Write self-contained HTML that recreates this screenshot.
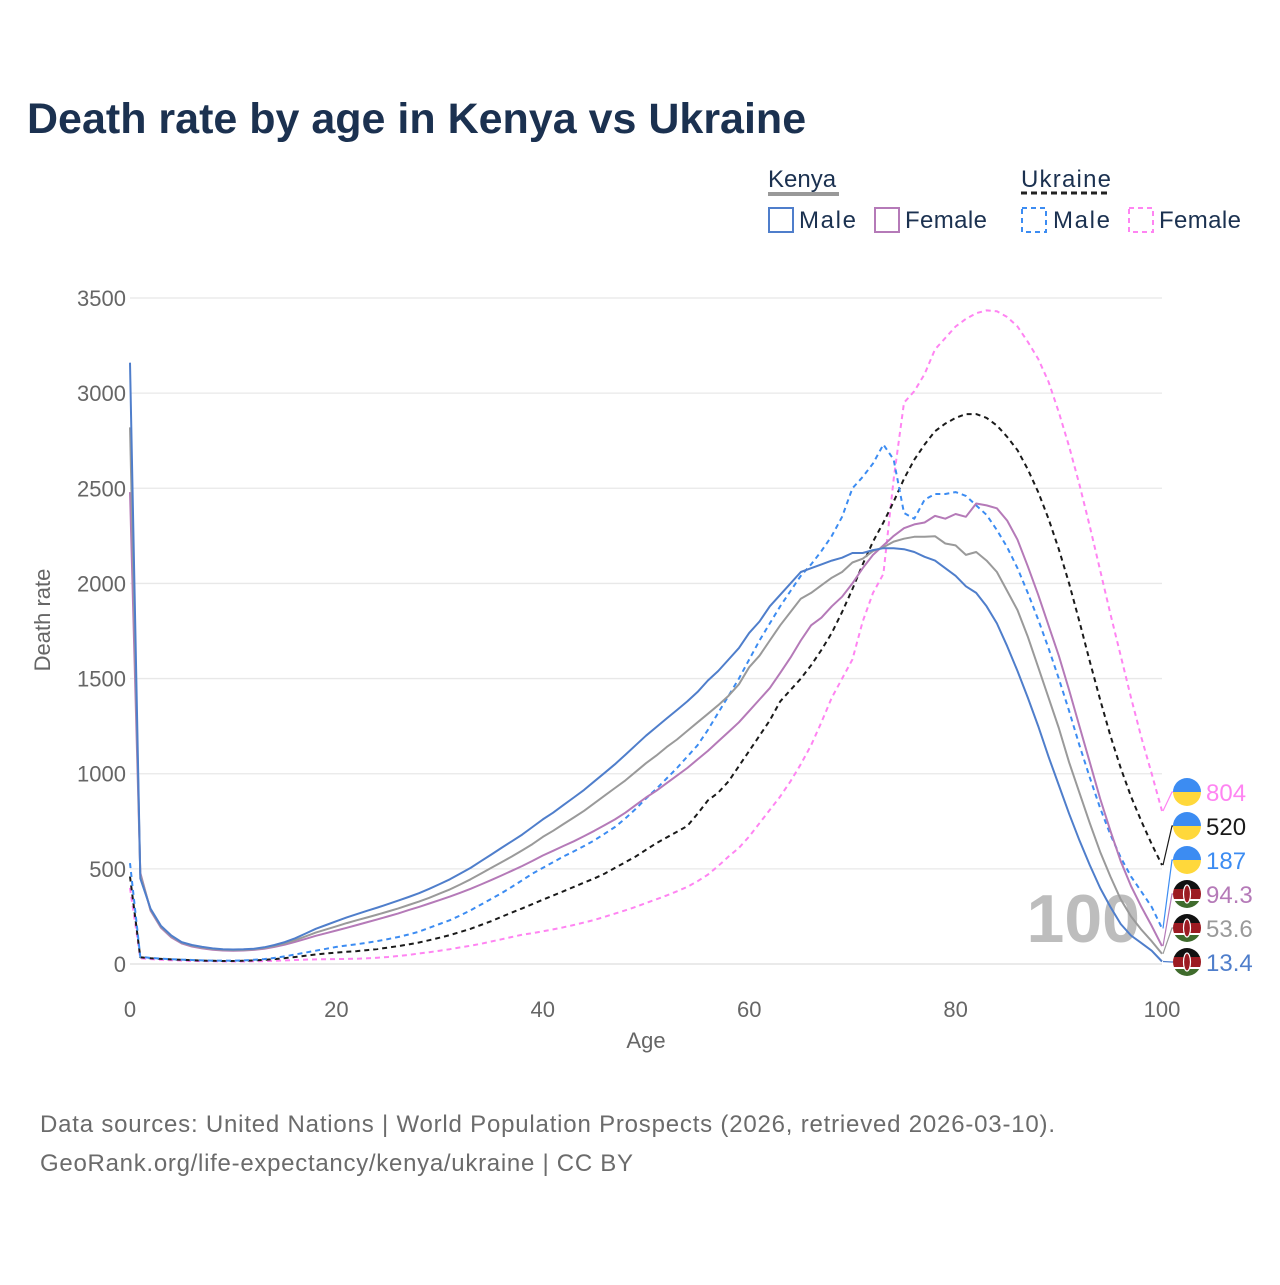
<!DOCTYPE html>
<html><head><meta charset="utf-8">
<style>
html,body{margin:0;padding:0;background:#fff;}
body{width:1280px;height:1280px;overflow:hidden;font-family:"Liberation Sans",sans-serif;}
svg text{font-family:"Liberation Sans",sans-serif;}
</style></head>
<body>
<svg id="chart" width="1280" height="1280" viewBox="0 0 1280 1280" xmlns="http://www.w3.org/2000/svg">
<defs id="defs"></defs>
<text x="27" y="133" font-size="43" font-weight="bold" fill="#1b3150">Death rate by age in Kenya vs Ukraine</text>
<g font-size="24" fill="#1b3150">
  <text x="768" y="187">Kenya</text>
  <line x1="768" y1="194" x2="839" y2="194" stroke="#999" stroke-width="4"/>
  <text x="1021" y="187" textLength="90">Ukraine</text>
  <line x1="1021" y1="193" x2="1111" y2="193" stroke="#222" stroke-width="3" stroke-dasharray="6,4"/>
  <g><rect x="769" y="208" width="24" height="24" fill="none" stroke="#4f7ecb" stroke-width="2"/><text x="799" y="228" textLength="57">Male</text></g>
  <g><rect x="875" y="208" width="24" height="24" fill="none" stroke="#b57ab8" stroke-width="2"/><text x="905" y="228" textLength="82">Female</text></g>
  <g><rect x="1022" y="208" width="24" height="24" fill="none" stroke="#3c8cf2" stroke-width="2" stroke-dasharray="5,4"/><text x="1053" y="228" textLength="57">Male</text></g>
  <g><rect x="1129" y="208" width="24" height="24" fill="none" stroke="#ff84f2" stroke-width="2" stroke-dasharray="5,4"/><text x="1159" y="228" textLength="82">Female</text></g>
</g>
<g id="grid"></g>
<g id="axes"></g>
<text x="1140" y="942" font-size="68" font-weight="bold" fill="#bdbdbd" text-anchor="end">100</text>
<g id="series"></g>
<g id="labels"></g>
<text x="646" y="1048" font-size="22" fill="#666" text-anchor="middle">Age</text>
<text transform="translate(50,620) rotate(-90)" font-size="22" fill="#666" text-anchor="middle">Death rate</text>
<text x="40" y="1132" font-size="24" fill="#6b6b6b" textLength="1015">Data sources: United Nations | World Population Prospects (2026, retrieved 2026-03-10).</text>
<text x="40" y="1171" font-size="24" fill="#6b6b6b" textLength="593">GeoRank.org/life-expectancy/kenya/ukraine | CC BY</text>
</svg>
<script>
const yTicks=[0,500,1000,1500,2000,2500,3000,3500];
const xTicks=[0,20,40,60,80,100];
const kenyaMale=[3160,450,290,200,150,115,100,90,82,78,76,77,80,88,100,115,135,160,185,205,225,245,262,280,297,315,333,352,372,395,420,445,475,505,540,575,610,645,680,720,760,795,835,875,915,960,1005,1050,1100,1150,1200,1245,1290,1335,1380,1430,1490,1540,1600,1660,1740,1800,1880,1940,2000,2060,2080,2100,2120,2135,2160,2160,2175,2185,2185,2180,2165,2140,2120,2080,2040,1985,1950,1880,1790,1670,1540,1400,1250,1090,940,790,650,520,400,300,210,150,110,70,13.4];
const kenyaTotal=[2820,470,285,195,145,112,96,86,79,75,73,74,77,84,95,108,125,145,165,182,198,215,230,245,260,276,292,310,328,348,370,392,418,445,475,505,535,565,597,630,668,700,735,770,805,845,885,925,965,1010,1055,1095,1140,1180,1225,1270,1315,1360,1410,1470,1560,1620,1700,1780,1850,1920,1950,1990,2030,2060,2110,2130,2170,2190,2220,2235,2245,2245,2248,2210,2200,2150,2165,2120,2060,1960,1860,1720,1560,1400,1240,1060,900,740,590,460,340,250,180,120,53.6];
const kenyaFemale=[2480,480,280,190,140,108,92,82,75,71,70,71,74,80,90,102,116,132,148,162,176,190,205,220,235,250,266,283,300,318,336,354,374,395,418,441,465,490,515,542,570,595,620,645,672,700,730,760,795,835,875,910,950,990,1030,1075,1120,1170,1220,1270,1330,1390,1450,1530,1610,1700,1780,1820,1880,1930,2000,2080,2150,2200,2250,2290,2310,2320,2355,2340,2365,2350,2420,2410,2395,2330,2230,2090,1940,1780,1620,1440,1250,1060,870,700,540,410,300,200,94.3];
const ukraineTotal=[460,35,30,27,24,22,20,18,17,16,16,17,19,22,26,31,37,43,50,55,60,64,68,73,79,86,94,103,113,125,138,152,168,185,205,225,248,270,292,315,338,360,382,405,428,450,475,505,535,565,600,635,665,695,725,790,860,900,960,1040,1120,1200,1280,1380,1440,1500,1570,1650,1740,1850,1970,2100,2220,2320,2430,2550,2650,2730,2800,2840,2870,2890,2890,2870,2830,2770,2700,2600,2480,2340,2180,2000,1800,1590,1390,1200,1030,880,750,630,520];
const ukraineMale=[530,38,32,28,25,23,21,19,18,18,18,19,22,26,32,40,50,60,70,80,90,97,104,112,121,131,142,155,170,190,210,230,255,282,312,342,372,405,440,475,505,535,565,592,620,650,685,720,765,815,870,920,975,1030,1090,1150,1230,1320,1410,1500,1600,1700,1790,1880,1960,2040,2100,2170,2250,2350,2500,2560,2630,2730,2650,2370,2340,2440,2470,2470,2480,2460,2410,2360,2280,2190,2080,1950,1810,1660,1500,1330,1150,980,820,680,560,460,380,300,187];
const ukraineFemale=[400,30,26,22,20,18,16,15,14,13,13,13,14,15,17,19,21,23,24,25,26,27,28,30,33,37,42,48,55,62,70,78,87,96,106,118,130,142,154,162,172,182,193,205,218,232,248,265,282,300,320,340,360,382,405,435,470,515,565,610,670,740,810,880,960,1050,1150,1270,1400,1500,1600,1800,1950,2050,2550,2950,3010,3100,3230,3290,3350,3390,3420,3435,3430,3400,3350,3270,3180,3060,2900,2720,2520,2300,2070,1840,1620,1400,1190,1000,804];
const endLabels=["804","520","187","94.3","53.6","13.4"];

const NS="http://www.w3.org/2000/svg";
const X0=130,X1=1162,Y0=964,Y1=298;
const xs=a=>X0+(X1-X0)*a/100;
const ys=v=>Y0-(Y0-Y1)*v/3500;
function mk(tag,attrs,parent){const e=document.createElementNS(NS,tag);for(const k in attrs)e.setAttribute(k,attrs[k]);parent.appendChild(e);return e;}
const grid=document.getElementById('grid'),axes=document.getElementById('axes'),series=document.getElementById('series'),labels=document.getElementById('labels'),defsEl=document.getElementById('defs');
yTicks.forEach(t=>{
  const l=mk('line',{x1:X0,x2:X1,y1:ys(t),y2:ys(t),stroke:t===0?'#ddd':'#e8e8e8','stroke-width':1.3},grid);
  
  
  const tx=mk('text',{x:126,y:ys(t)+8,'font-size':22,fill:'#666','text-anchor':'end'},axes);
  tx.textContent=t;
  
  
});
xTicks.forEach(t=>{
  const tx=mk('text',{x:xs(t),y:1017,'font-size':22,fill:'#666','text-anchor':'middle'},axes);
  tx.textContent=t;
  
  
});
const lines=[
 [ukraineFemale,'#ff84f2','5,4','ukraine-female-line'],
 [ukraineTotal,'#1a1a1a','5,4','ukraine-total-line'],
 [ukraineMale,'#3c8cf2','5,4','ukraine-male-line'],
 [kenyaFemale,'#b57ab8','','kenya-female-line'],
 [kenyaTotal,'#9a9a9a','','kenya-total-line'],
 [kenyaMale,'#4f7ecb','','kenya-male-line']
];
const labelColors=['#ff84f2','#1a1a1a','#3c8cf2','#b57ab8','#9a9a9a','#4f7ecb'];
lines.forEach(([arr,col,dash,name])=>{
  const d=arr.map((v,i)=>(i?'L':'M')+xs(i).toFixed(1)+','+ys(v).toFixed(1)).join(' ');
  const p=mk('path',{d:d,fill:'none',stroke:col,'stroke-width':2,'stroke-dasharray':dash,'stroke-linejoin':'round'},series);
  
  
});
const flags=['ua','ua','ua','ke','ke','ke'];
const vals=[ukraineFemale,ukraineTotal,ukraineMale,kenyaFemale,kenyaTotal,kenyaMale];
endLabels.forEach((lab,i)=>{
  const ly=792+i*34;
  const ey=ys(vals[i][100]);
  const c=mk('path',{d:`M${X1+1},${ey.toFixed(1)} L${X1+10},${ly} L${X1+12},${ly}`,fill:'none',stroke:labelColors[i],'stroke-width':1.2},labels);
  
  
  const cx=1187,cy=ly,r=14;
  const cp=mk('clipPath',{id:'fc'+i},defsEl);
  mk('circle',{cx:cx,cy:cy,r:r},cp);
  const g=mk('g',{'clip-path':`url(#fc${i})`},labels);
  
  
  if(flags[i]==='ua'){
    mk('rect',{x:cx-r,y:cy-r,width:2*r,height:r,fill:'#3c8cf2'},g);
    mk('rect',{x:cx-r,y:cy,width:2*r,height:r,fill:'#ffd83b'},g);
  }else{
    mk('rect',{x:cx-r,y:cy-r,width:2*r,height:2*r,fill:'#fff'},g);
    mk('rect',{x:cx-r,y:cy-r,width:2*r,height:9,fill:'#111'},g);
    mk('rect',{x:cx-r,y:cy-5,width:2*r,height:10,fill:'#9c1b22'},g);
    mk('rect',{x:cx-r,y:cy+7,width:2*r,height:8,fill:'#3f6b2c'},g);
    mk('ellipse',{cx:cx,cy:cy,rx:3.5,ry:9,fill:'#9c1b22',stroke:'#fff','stroke-width':1.2},g);
  }
  const t=mk('text',{x:1206,y:ly+9,'font-size':24,fill:labelColors[i]},labels);
  t.textContent=lab;
  
  
});
</script>
</body></html>
